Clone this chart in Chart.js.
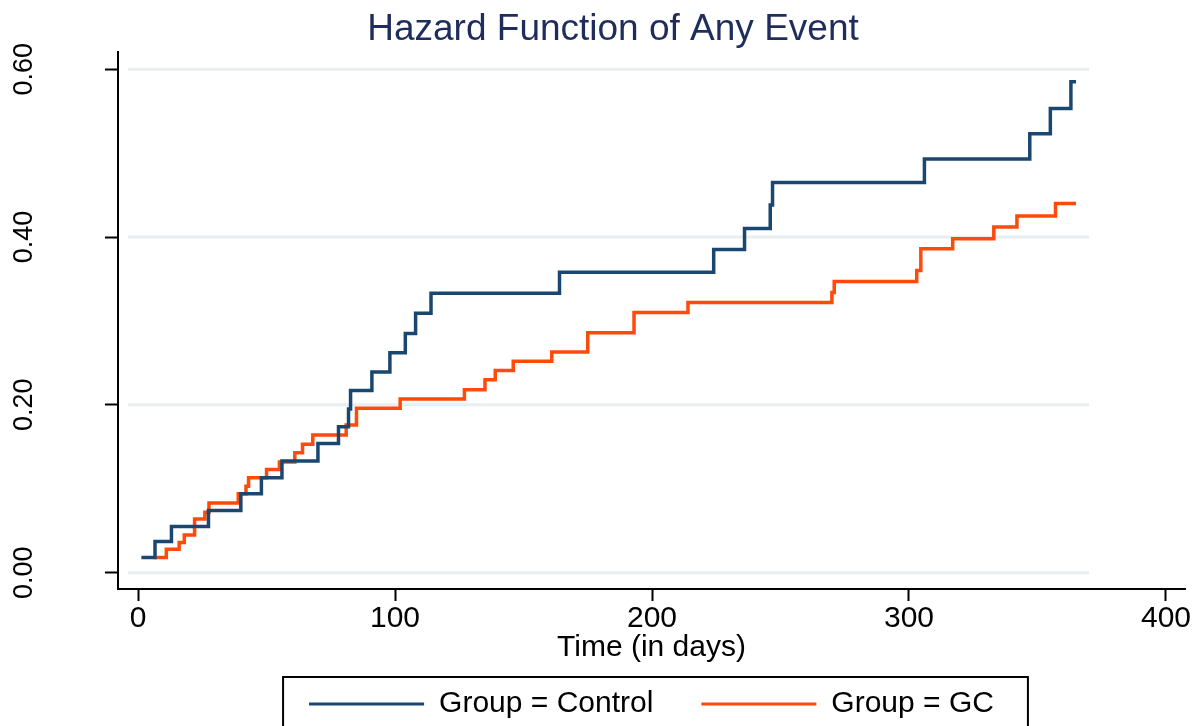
<!DOCTYPE html>
<html>
<head>
<meta charset="utf-8">
<script src="https://cdn.jsdelivr.net/npm/chart.js@4.4.1/dist/chart.umd.min.js"></script>
<style>
  body { margin: 0; background: #fff; }
</style>
</head>
<body>
<canvas id="hazardChart" width="1198" height="726"></canvas>
<script>
// cumulative hazard, step points (day, value)
const controlDays = [1.3, 6.6, 13, 27.4, 40, 48, 56, 70, 78, 81.9, 82.7, 91, 98, 104, 108, 114, 164, 224, 236, 246, 246.9, 306, 347, 355, 363, 365];
const controlHazard = [0.018, 0.037, 0.055, 0.074, 0.094, 0.113, 0.133, 0.154, 0.174, 0.195, 0.217, 0.239, 0.262, 0.285, 0.309, 0.333, 0.358, 0.385, 0.41, 0.438, 0.465, 0.493, 0.523, 0.553, 0.585, 0.585];

const gcDays = [6, 11, 16, 18, 22, 26, 27.6, 39, 42, 43, 50, 55, 61, 64, 68, 81, 85, 102, 127, 135, 139, 146, 161, 175, 193, 214, 270, 270.9, 303, 304.6, 317, 333, 342, 357, 365];
const gcHazard = [0.018, 0.028, 0.036, 0.045, 0.064, 0.072, 0.083, 0.094, 0.103, 0.113, 0.123, 0.132, 0.143, 0.153, 0.164, 0.176, 0.196, 0.207, 0.218, 0.23, 0.241, 0.252, 0.263, 0.286, 0.31, 0.322, 0.334, 0.347, 0.36, 0.386, 0.398, 0.412, 0.425, 0.44, 0.44];

const seriesLabels = ["Group = Control", "Group = GC"];
const xTicks = [0, 100, 200, 300, 400];
const yTicks = [0, 0.2, 0.4, 0.6];
const yTickLabels = ["0.00", "0.20", "0.40", "0.60"];

const toPoints = (days, vals) => days.map((d, i) => ({ x: d, y: vals[i] }));
const FONT = "'Liberation Sans', Arial, sans-serif";

// stata-like horizontal grid bands, a bit shorter than the x axis
const gridBands = {
  id: 'gridBands',
  beforeDatasetsDraw(chart) {
    const { ctx, scales: { x, y } } = chart;
    const x0 = x.getPixelForValue(-4);
    const x1 = x.getPixelForValue(370);
    ctx.save();
    ctx.strokeStyle = '#e9eef0';
    ctx.lineWidth = 3;
    yTicks.forEach(v => {
      const py = y.getPixelForValue(v);
      ctx.beginPath();
      ctx.moveTo(x0, py);
      ctx.lineTo(x1, py);
      ctx.stroke();
    });
    ctx.restore();
  }
};

// y tick labels rotated to read bottom-to-top, centred on each tick
const rotatedYLabels = {
  id: 'rotatedYLabels',
  afterDraw(chart) {
    const { ctx, scales: { y } } = chart;
    ctx.save();
    ctx.fillStyle = '#000';
    ctx.font = "27px " + FONT;
    ctx.textAlign = 'center';
    ctx.textBaseline = 'middle';
    y.ticks.forEach((t, i) => {
      ctx.save();
      ctx.translate(y.right - 93, y.getPixelForValue(t.value));
      ctx.rotate(-Math.PI / 2);
      ctx.fillText(yTickLabels[i], 0, 0);
      ctx.restore();
    });
    ctx.restore();
  }
};

// frame around the legend (open at the bottom edge of the canvas)
const legendFrame = {
  id: 'legendFrame',
  afterDraw(chart) {
    const boxes = chart.legend.legendHitBoxes;
    if (!boxes || !boxes.length) return;
    const first = boxes[0];
    const last = boxes[boxes.length - 1];
    const left = first.left - 26;
    const right = last.left + last.width + 34;
    const top = first.top - 12;
    const { ctx } = chart;
    ctx.save();
    ctx.strokeStyle = '#000';
    ctx.lineWidth = 2;
    ctx.strokeRect(left, top, right - left, 80);
    ctx.restore();
  }
};

new Chart(document.getElementById('hazardChart'), {
  type: 'line',
  data: {
    datasets: [
      {
        label: seriesLabels[0],
        data: toPoints(controlDays, controlHazard),
        borderColor: '#1a476f',
        backgroundColor: '#1a476f',
        borderWidth: 3.5,
        stepped: 'before',
        fill: false,
        pointRadius: 0,
        borderJoinStyle: 'miter',
      },
      {
        label: seriesLabels[1],
        data: toPoints(gcDays, gcHazard),
        borderColor: '#ff4a0a',
        backgroundColor: '#ff4a0a',
        borderWidth: 3.5,
        stepped: 'before',
        fill: false,
        pointRadius: 0,
        borderJoinStyle: 'miter',
      },
    ]
  },
  options: {
    responsive: false,
    animation: false,
    devicePixelRatio: 1,
    layout: {
      padding: { left: 41, right: 13, top: 0, bottom: -3 }
    },
    scales: {
      x: {
        type: 'linear',
        min: -7.8,
        max: 407.4,
        afterBuildTicks: (s) => { s.ticks = xTicks.map(v => ({ value: v })); },
        afterFit: (s) => { s.height = 52; s.paddingLeft = 0; s.paddingRight = 0; },
        border: { color: '#000', width: 2 },
        grid: { drawOnChartArea: false, drawTicks: true, tickLength: 12, tickColor: '#000', tickWidth: 2 },
        ticks: {
          color: '#000',
          padding: 0,
          maxRotation: 0,
          font: { family: FONT, size: 30 },
        },
        title: {
          display: true,
          text: 'Time (in days)',
          color: '#000',
          font: { family: FONT, size: 30 },
          padding: { top: 0, bottom: -25 },
        },
      },
      y: {
        min: -0.0195,
        max: 0.62,
        afterBuildTicks: (s) => { s.ticks = yTicks.map(v => ({ value: v })); },
        afterFit: (s) => { s.width = 77; s.paddingTop = 0; s.paddingBottom = 0; },
        border: { color: '#000', width: 2 },
        grid: { drawOnChartArea: false, drawTicks: true, tickLength: 13, tickColor: '#000', tickWidth: 2 },
        ticks: {
          display: false,
        },
      },
    },
    plugins: {
      title: {
        display: true,
        text: 'Hazard Function of Any Event',
        color: '#1e2d5b',
        font: { family: FONT, size: 37, weight: 'normal' },
        padding: { top: 8, bottom: 0 },
      },
      legend: {
        position: 'bottom',
        fullSize: false,
        labels: {
          color: '#000',
          font: { family: FONT, size: 30 },
          boxWidth: 115,
          boxHeight: 3,
          padding: 48,
          generateLabels: (chart) => chart.data.datasets.map((ds, i) => ({
            text: ds.label,
            fillStyle: ds.borderColor,
            strokeStyle: ds.borderColor,
            lineWidth: 0,
            fontColor: '#000',
            hidden: false,
            datasetIndex: i,
          })),
        },
      },
      tooltip: { enabled: false },
    },
  },
  plugins: [gridBands, rotatedYLabels, legendFrame],
});
</script>
</body>
</html>
